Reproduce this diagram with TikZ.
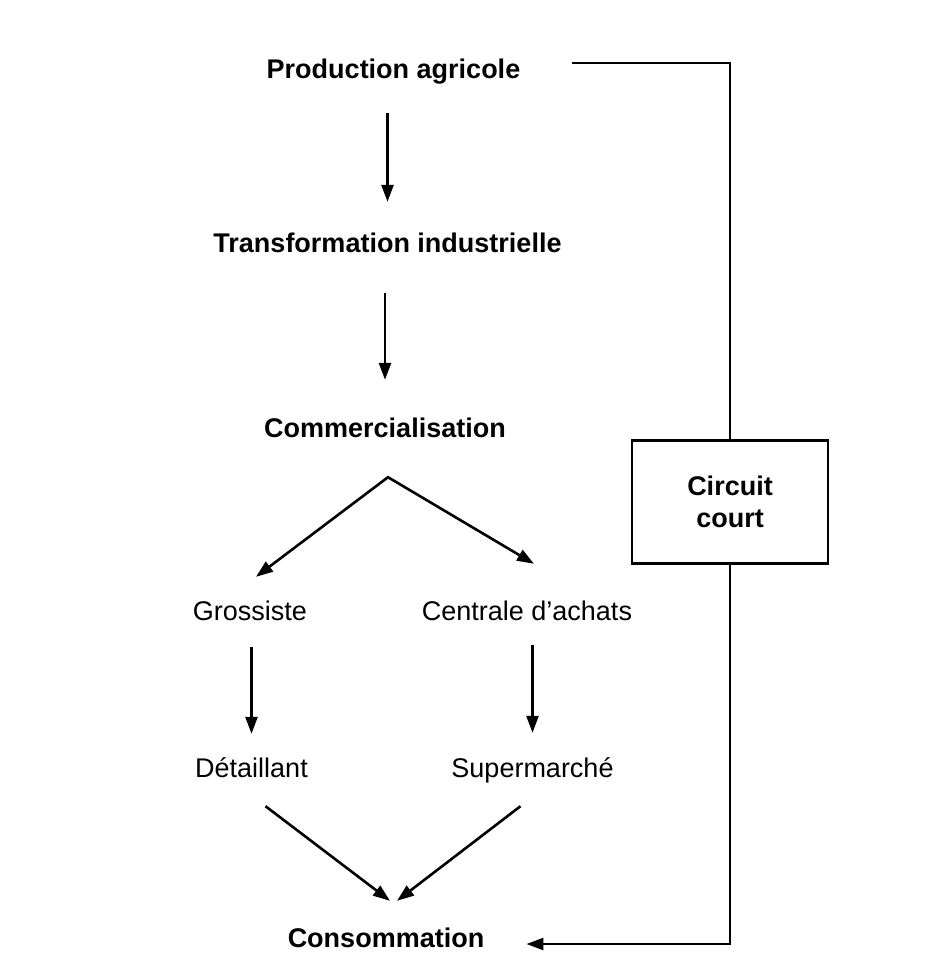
\documentclass[tikz,border=0pt]{standalone}
\usepackage{fontspec}
\setmainfont{Liberation Sans}
\usepackage{tikz}
\usetikzlibrary{arrows.meta}
\tikzset{basic/.style={inner sep=0pt,text height=20pt,text depth=6pt,
                       anchor=base,font=\fontsize{27}{32}\selectfont}}
\tikzset{stage/.style={basic,font=\fontsize{27}{32}\selectfont\bfseries}}
\tikzset{actor/.style={basic}}
\tikzset{shortbox/.style={draw,line width=2.8pt,minimum width=196pt,
                          minimum height=123pt,align=center,
                          font=\fontsize{27}{32}\selectfont\bfseries}}
\tikzset{link/.style={line width=2.6pt}}
\tikzset{flow/.style={link,>={Triangle[length=17pt,width=12pt]}}}

\begin{document}
\begin{tikzpicture}[x=1pt,y=-1pt]
    \useasboundingbox (0,0) rectangle (928,966);
    % Chain
    \node[stage] (prod)  at (393.5,78) {Production agricole};
    \node[stage] (trans) at (387.5,252) {Transformation industrielle};
    \node[stage] (com)   at (385,437) {Commercialisation};
    \node[actor] (gros)  at (250,620) {Grossiste};
    \node[actor] (cent)  at (527,620) {Centrale d’achats};
    \node[actor] (det)   at (251.5,777) {Détaillant};
    \node[actor] (sup)   at (532.5,777) {Supermarché};
    \node[stage] (cons)  at (386,947) {Consommation};
    \node[shortbox] (court) at (730,502) {Circuit\\court};

    \draw[flow,->,shorten <=29pt,shorten >=30pt] (prod.south -| trans) -- (trans.north);
    \draw[flow,->,shorten <=35pt,shorten >=37pt] (trans.south -| com) -- (com.north);

    \coordinate (split) at ([xshift=3pt,yshift=-34pt]com.south);
    \draw[flow,<->] ([xshift=6pt,yshift=23pt]gros.north) -- (split)
                    -- ([xshift=7pt,yshift=36pt]cent.north);

    \draw[flow,->,shorten <=21pt,shorten >=23pt] (gros.south -| det) -- (det.north);
    \draw[flow,->,shorten <=19pt,shorten >=24pt] (cent.south -| sup) -- (sup.north);

    \coordinate (meet) at ([xshift=7pt,yshift=26pt]cons.north);
    \draw[flow,->] ([xshift=14pt,yshift=-23pt]det.south) -- ([xshift=-3pt]meet);
    \draw[flow,->] ([xshift=-12pt,yshift=-23pt]sup.south) -- ([xshift=4pt]meet);

    % Short circuit
    \draw[link] ([xshift=52pt,yshift=8pt]prod.east) -| (court.north);
    \draw[flow,->] (court.south) |- ([xshift=42pt,yshift=-4pt]cons.east);
\end{tikzpicture}
\end{document}
